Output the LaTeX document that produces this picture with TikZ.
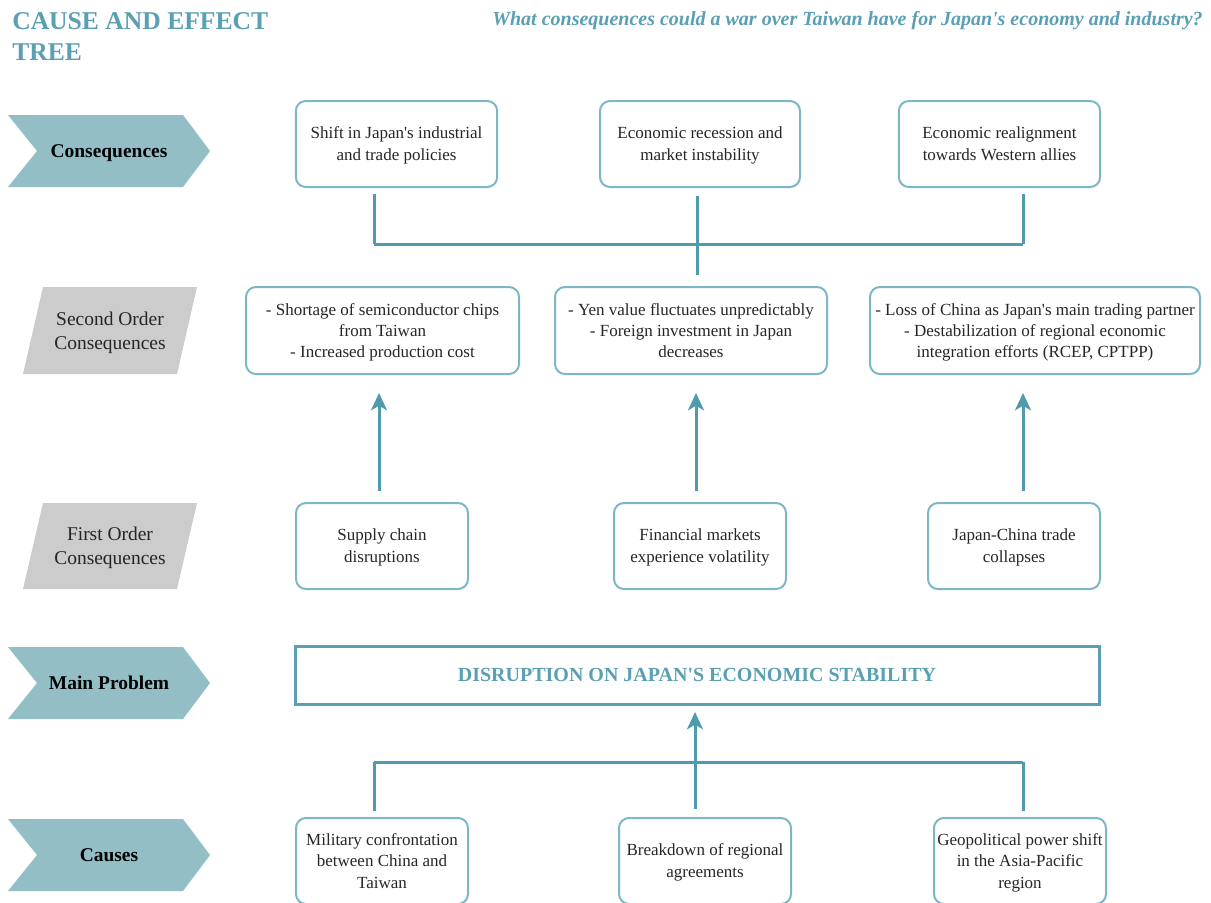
\documentclass[tikz,border=0pt]{standalone}
\usepackage{fontspec}
\setmainfont{Liberation Serif}[Ligatures=TeXOff]
\usetikzlibrary{arrows.meta}
\definecolor{tealt}{HTML}{5A9FB3}
\definecolor{chev}{HTML}{93BEC6}
\definecolor{greyp}{HTML}{CCCCCC}
\definecolor{bord}{HTML}{7DB7C7}
\definecolor{lnc}{HTML}{4F9AAD}
\begin{document}
\begin{tikzpicture}[x=0.75pt,y=-0.75pt,
  box/.style={draw=bord, line width=1.5pt, rounded corners=7.5pt, fill=white,
    align=center, inner sep=0pt, text depth=-0.5pt, font=\fontsize{12.75}{16.5}\selectfont, text=black!85},
  sbox/.style={box, font=\fontsize{12.75}{15.4}\selectfont},
  lab/.style={align=center, inner sep=0pt, text depth=-0.5pt, font=\fontsize{14.6}{18}\selectfont, text=black!85},
  blab/.style={lab, font=\bfseries\fontsize{14.6}{18}\selectfont, text=black},
  conn/.style={draw=lnc, line width=2.25pt},
  arr/.style={conn, -{Stealth[length=13pt, width=12pt, inset=3.5pt]}}
]
\useasboundingbox (0,0) rectangle (1211,903);
\fill[white] (0,0) rectangle (1211,903);
% title
\node[anchor=north west, inner sep=0pt, align=left, text=tealt,
  font=\bfseries\fontsize{19.2}{23.25}\selectfont] (title) at (12,12) {CAUSE AND EFFECT\\TREE};
\node[anchor=base east, inner sep=0pt, text=tealt,
  font=\bfseries\itshape\fontsize{15}{18}\selectfont] (sub) at (1203,26)
  {What consequences could a war over Taiwan have for Japan's economy and industry?};
% left labels
\fill[chev] (8,115) -- (183,115) -- (210,151) -- (183,187) -- (8,187) -- (37,151) -- cycle;
\node[blab] (lcons) at (109,151) {Consequences};
\fill[greyp] (43,287) -- (197,287) -- (177,374) -- (23,374) -- cycle;
\node[lab] (lsec) at (110,330.5) {Second Order\\Consequences};
\fill[greyp] (43,503) -- (197,503) -- (177,589) -- (23,589) -- cycle;
\node[lab] (lfirst) at (110,546) {First Order\\Consequences};
\fill[chev] (8,647) -- (183,647) -- (210,683) -- (183,719) -- (8,719) -- (37,683) -- cycle;
\node[blab] (lmain) at (109,683) {Main Problem};
\fill[chev] (8,819) -- (183,819) -- (210,855) -- (183,891) -- (8,891) -- (37,855) -- cycle;
\node[blab] (lcause) at (109,855) {Causes};
% consequences
\node[box, minimum width=151pt, minimum height=64.5pt] (c1) at (396.5,144) {Shift in Japan's industrial\\and trade policies};
\node[box, minimum width=150pt, minimum height=64.5pt] (c2) at (700,144) {Economic recession and\\market instability};
\node[box, minimum width=151pt, minimum height=64.5pt] (c3) at (999.5,144) {Economic realignment\\towards Western allies};
% second order
\node[sbox, minimum width=204.75pt, minimum height=65.25pt] (s1) at (382.5,330.5) {- Shortage of semiconductor chips\\from Taiwan\\- Increased production cost};
\node[sbox, minimum width=204pt, minimum height=65.25pt] (s2) at (691,330.5) {- Yen value fluctuates unpredictably\\- Foreign investment in Japan\\decreases};
\node[sbox, minimum width=247.5pt, minimum height=65.25pt] (s3) at (1035,330.5) {- Loss of China as Japan's main trading partner\\- Destabilization of regional economic\\integration efforts (RCEP, CPTPP)};
% first order
\node[box, minimum width=129pt, minimum height=64.5pt] (f1) at (382,546) {Supply chain\\disruptions};
\node[box, minimum width=129pt, minimum height=64.5pt] (f2) at (700,546) {Financial markets\\experience volatility};
\node[box, minimum width=129pt, minimum height=64.5pt] (f3) at (1014,546) {Japan-China trade\\collapses};
% main problem
\node[draw=tealt, line width=2.25pt, minimum width=603pt, minimum height=43.5pt, inner sep=0pt,
  text=tealt, font=\bfseries\fontsize{15}{18}\selectfont] (mp) at (697,675) {DISRUPTION ON JAPAN'S ECONOMIC STABILITY};
% causes
\node[box, minimum width=129pt, minimum height=64.5pt, font=\fontsize{12.75}{16}\selectfont] (k1) at (382,861) {Military confrontation\\between China and\\Taiwan};
\node[box, minimum width=129pt, minimum height=64.5pt] (k2) at (705,861) {Breakdown of regional\\agreements};
\node[box, minimum width=129pt, minimum height=64.5pt, font=\fontsize{12.75}{16}\selectfont] (k3) at (1020,861) {Geopolitical power shift\\in the Asia-Pacific\\region};
% top connectors
\coordinate (t1) at (374,244);
\coordinate (t2) at (697,275);
\coordinate (t3) at (1023,244);
\draw[conn, shorten <=4.5pt] (c1.south -| t1) -- (t1);
\draw[conn, shorten <=4.5pt] (c3.south -| t3) -- (t3);
\draw[conn] (t1) -- (t3);
\draw[conn, shorten <=6pt] (c2.south -| t2) -- (t2);
% arrows first -> second
\coordinate (a1) at (379,393);
\coordinate (a2) at (696,393);
\coordinate (a3) at (1023,393);
\draw[arr, shorten <=8.25pt] (f1.north -| a1) -- (a1);
\draw[arr, shorten <=8.25pt] (f2.north -| a2) -- (a2);
\draw[arr, shorten <=8.25pt] (f3.north -| a3) -- (a3);
% bottom connectors
\coordinate (b1) at (374,762);
\coordinate (b3) at (1023,762);
\coordinate (b2) at (695,712);
\draw[conn, shorten <=4.5pt] (k1.north -| b1) -- (b1);
\draw[conn, shorten <=4.5pt] (k3.north -| b3) -- (b3);
\draw[conn] (b1) -- (b3);
\draw[arr, shorten <=6pt] (k2.north -| b2) -- (b2);
\end{tikzpicture}
\end{document}
